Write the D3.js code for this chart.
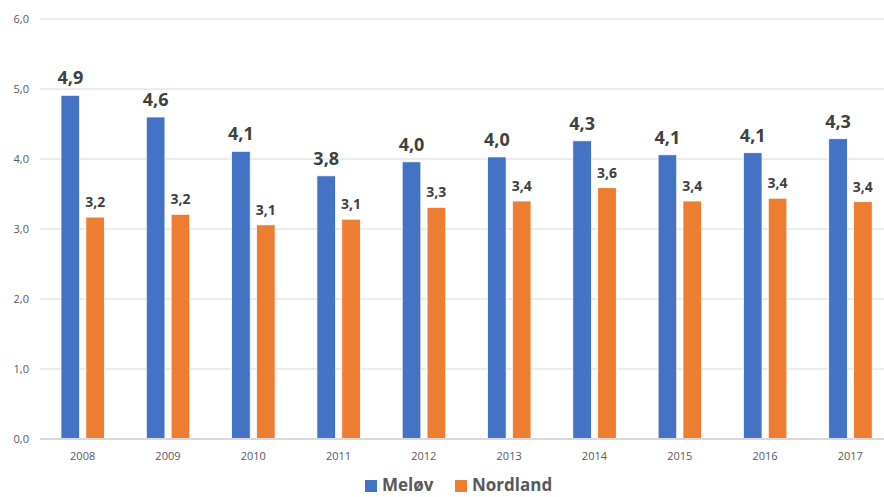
<!DOCTYPE html>
<html lang="no">
<head>
<meta charset="UTF-8">
<script src="https://d3js.org/d3.v7.min.js"></script>
<style>
  body { margin: 0; background: #fff; }
  text { font-family: "Open Sans", "DejaVu Sans", sans-serif; }
</style>
</head>
<body>
<div id="canvas"></div>
<script>
const years = ["2008","2009","2010","2011","2012","2013","2014","2015","2016","2017"]
const melov = [4.91, 4.60, 4.11, 3.76, 3.96, 4.03, 4.26, 4.06, 4.09, 4.29]
const nordland = [3.17, 3.21, 3.06, 3.14, 3.31, 3.40, 3.59, 3.40, 3.44, 3.39]
const seriesNames = ["Meløv", "Nordland"]
const colors = ["#4472C4", "#ED7D31"]
const yTicks = [0, 1, 2, 3, 4, 5, 6]

const W = 884, H = 497
const svg = d3.select("#canvas").append("svg").attr("width", W).attr("height", H)

const x = d3.scaleBand().domain(years).range([40, 893])
const inner = d3.scaleBand().domain(seriesNames).range([21, 64.5]).paddingInner(0.25)
const y = d3.scaleLinear().domain([0, 6]).range([439, 19])
const fmt = v => d3.format(".1f")(v).replace(".", ",")

// grid
svg.append("g").selectAll("line").data(yTicks.slice(1)).join("line")
  .attr("x1", 40).attr("x2", W)
  .attr("y1", d => y(d)).attr("y2", d => y(d))
  .attr("stroke", "#d9d9d9").attr("stroke-width", 1)

// y labels
svg.append("g").selectAll("text").data(yTicks).join("text")
  .attr("x", 29).attr("y", d => y(d) + 4)
  .attr("text-anchor", "end").attr("font-size", 11).attr("fill", "#595959")
  .text(d => fmt(d))

const series = [melov, nordland]
series.forEach((vals, si) => {
  const g = svg.append("g")
  g.selectAll("rect").data(vals).join("rect")
    .attr("x", (d, i) => x(years[i]) + inner(seriesNames[si]))
    .attr("width", inner.bandwidth())
    .attr("y", d => y(d))
    .attr("height", d => y(0) - y(d))
    .attr("fill", colors[si])
    .attr("stroke", "#fff").attr("stroke-width", 0.8)
  g.selectAll("text").data(vals).join("text")
    .attr("x", (d, i) => x(years[i]) + inner(seriesNames[si]) + inner.bandwidth() / 2)
    .attr("y", d => y(d) - (si === 0 ? 11 : 10))
    .attr("text-anchor", "middle")
    .attr("font-size", si === 0 ? 18 : 14)
    .attr("font-weight", "bold")
    .attr("fill", "#404040")
    .text(d => fmt(d))
})

// x axis line
svg.append("line").attr("x1", 40).attr("x2", W)
  .attr("y1", y(0)).attr("y2", y(0))
  .attr("stroke", "#d9d9d9").attr("stroke-width", 2)

svg.append("g").selectAll("text").data(years).join("text")
  .attr("x", d => x(d) + x.bandwidth() / 2)
  .attr("y", 460)
  .attr("text-anchor", "middle").attr("font-size", 11).attr("fill", "#595959")
  .text(d => d)

// legend
const leg = svg.append("g")
const legX = [365, 455]
seriesNames.forEach((n, i) => {
  leg.append("rect").attr("x", legX[i]).attr("y", 480).attr("width", 12).attr("height", 12)
    .attr("fill", colors[i])
  leg.append("text").attr("x", legX[i] + 17).attr("y", 491)
    .attr("font-size", 17).attr("font-weight", "bold").attr("fill", "#595959")
    .text(n)
})
</script>
</body>
</html>
